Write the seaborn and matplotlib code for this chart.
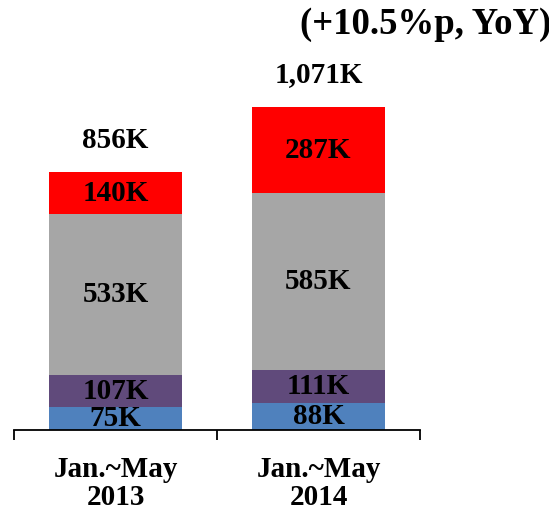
import matplotlib
matplotlib.use("Agg")
import matplotlib.pyplot as plt
import seaborn as sns
import pandas as pd
import numpy as np

# Данные (тыс.)
periods = ["Jan.~May\n2013", "Jan.~May\n2014"]
seg_blue = [75, 88]
seg_purple = [107, 111]
seg_gray = [533, 585]
seg_red = [140, 287]
total_labels = ["856K", "1,071K"]
headline = "(+10.5%p, YoY)"

layers = [
    (seg_blue, "#4F81BD"),
    (seg_purple, "#604A7B"),
    (seg_gray, "#A6A6A6"),
    (seg_red, "#FF0000"),
]

sns.set_theme(style="white")
plt.rcParams["font.family"] = ["Liberation Serif", "DejaVu Serif"]
plt.rcParams["font.weight"] = "bold"
plt.rcParams["text.color"] = "black"
plt.rcParams["xtick.color"] = "black"
plt.rcParams["xtick.labelcolor"] = "black"

fig = plt.figure(figsize=(5.49, 5.12), dpi=100)
ax = fig.add_axes([14 / 549, 82 / 512, 406 / 549, 362 / 512])

fs = 21
bottom = np.zeros(len(periods))
for values, color in layers:
    df = pd.DataFrame({"period": periods, "value": values})
    sns.barplot(data=df, x="period", y="value", color=color, bottom=bottom,
                width=0.66, saturation=1, ax=ax, edgecolor="none", linewidth=0)
    # подписи сегментов по центру
    for i, v in enumerate(values):
        ax.text(i, bottom[i] + v / 2, f"{v}K", ha="center", va="center",
                fontsize=fs, fontweight="bold", color="black", clip_on=True)
    bottom = bottom + np.array(values)

# итоговые значения над столбцами
for i, lbl in enumerate(total_labels):
    ax.annotate(lbl, xy=(i, bottom[i]), xytext=(0, 23), textcoords="offset points",
                ha="center", va="center", fontsize=fs, fontweight="bold",
                color="black", annotation_clip=False)

fig.text(300 / 549, 1 - 25 / 512, headline, ha="left", va="center",
         fontsize=26.5, fontweight="bold", color="black")

ax.set_xlim(-0.5, 1.5)
ax.set_ylim(0, 1200)
ax.set_xlabel("")
ax.set_ylabel("")
ax.set_yticks([])
sns.despine(ax=ax, left=True, top=True, right=True)
ax.spines["bottom"].set_color("black")
ax.spines["bottom"].set_linewidth(1.3)
ax.set_xticks([0, 1])
ax.set_xticklabels(periods, fontsize=fs, fontweight="bold", color="black",
                   linespacing=1.05)
ax.tick_params(axis="x", which="major", length=0, pad=19)
ax.set_xticks([-0.5, 0.5, 1.5], minor=True)
ax.tick_params(axis="x", which="minor", length=7, width=1.3, color="black",
               direction="out", bottom=True)
ax.grid(False)

fig.savefig("out.png", dpi=100)
